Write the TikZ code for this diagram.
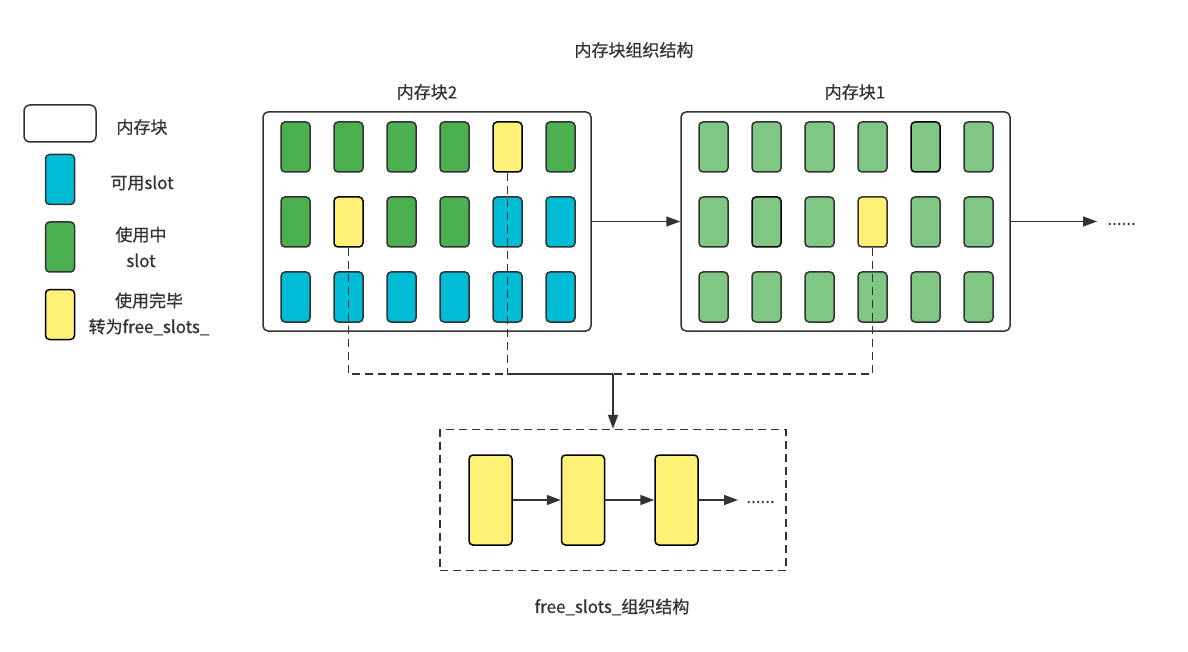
\documentclass[tikz,border=0pt]{standalone}
\usepackage{fontspec}
\setmainfont{Noto Sans CJK SC}[FakeBold=0.7]
\usepackage{tikz}
\usetikzlibrary{positioning,shapes,arrows,arrows.meta,fit,calc}

\definecolor{linec}{HTML}{333333}
\definecolor{usedg}{HTML}{4CAF50}
\definecolor{freec}{HTML}{00BCD4}
\definecolor{doney}{HTML}{FFF176}
\definecolor{lightg}{HTML}{81C784}

\tikzset{
    slot/.style={rectangle,draw=linec,line width=0.75pt,rounded corners=2pt,minimum width=14.5pt,minimum height=25pt,inner sep=0pt},
    memblock/.style={rectangle,draw=linec,line width=0.75pt,rounded corners=2.5pt,fill=white,inner sep=0pt},
    lbl/.style={font=\fontsize{8.5}{13}\selectfont,text=linec,align=center,inner sep=0pt},
    link/.style={draw=linec,line width=0.75pt,-{Triangle[length=7pt,width=5pt]}},
    dashlink/.style={draw=linec,line width=0.75pt,dash pattern=on 4pt off 2.5pt},
}

\begin{document}
\begin{tikzpicture}[x=0.5pt,y=-0.5pt]
            \useasboundingbox[fill=white] (0,0) rectangle (1188,652);

            \node[lbl] (title) at (634,50) {内存块组织结构};

            \node[memblock,minimum width=36pt,minimum height=18.5pt,rounded corners=3pt] (lgblock) at (60,123.5) {};
            \node[lbl] (lgblocktxt) at (142,127) {内存块};
            \node[slot,fill=freec] (lgfree) at (60,179.5) {};
            \node[lbl] (lgfreetxt) at (142,183) {可用slot};
            \node[slot,fill=usedg] (lgused) at (60,247) {};
            \node[lbl] (lgusedtxt) at (141,247) {使用中\\slot};
            \node[slot,fill=doney,draw=black] (lgdone) at (60,314.5) {};
            \node[lbl] (lgdonetxt) at (149,314) {使用完毕\\转为free\_slots\_};

            \node[lbl] (mem2txt) at (427,92) {内存块2};
            \node[memblock,minimum width=164pt,minimum height=109.5pt] (mem2) at (427,221.5) {};
            \foreach \r/\row in {1/{usedg/linec,usedg/linec,usedg/linec,usedg/linec,doney/black,usedg/linec},
                                 2/{usedg/linec,doney/black,usedg/linec,usedg/linec,freec/linec,freec/linec},
                                 3/{freec/linec,freec/linec,freec/linec,freec/linec,freec/linec,freec/linec}}
                \foreach \fc/\dc [count=\c] in \row
                    \node[slot,fill=\fc,draw=\dc] (m2s\r\c) at ({295.5+53*(\c-1)},{147+75*(\r-1)}) {};

            \node[lbl] (mem1txt) at (855,92) {内存块1};
            \node[memblock,minimum width=164.5pt,minimum height=109.5pt] (mem1) at (845.5,221.5) {};
            \foreach \r/\row in {1/{lightg/linec,lightg/linec,lightg/linec,lightg/linec,lightg/black,lightg/linec},
                                 2/{lightg/linec,lightg/black,lightg/linec,doney/linec,lightg/linec,lightg/linec},
                                 3/{lightg/linec,lightg/linec,lightg/linec,lightg/linec,lightg/linec,lightg/linec}}
                \foreach \fc/\dc [count=\c] in \row
                    \node[slot,fill=\fc,draw=\dc] (m1s\r\c) at ({713.5+53*(\c-1)},{147+75*(\r-1)}) {};

            \node[lbl,anchor=west,inner sep=5pt] (more1) at (1097,224) {......};
            \draw[link] (mem2.east) -- (mem1.west);
            \draw[link] (mem1.east) -- (more1.west |- mem1.east);

            \node[rectangle,draw=linec,line width=0.75pt,dash pattern=on 4pt off 2.5pt,minimum width=173pt,minimum height=70.5pt] (freebox) at (613,500) {};
            \node[slot,fill=doney,draw=black,minimum width=21.5pt,minimum height=45pt] (fs1) at (490.5,500) {};
            \node[slot,fill=doney,draw=black,minimum width=21.5pt,minimum height=45pt] (fs2) at (583,500) {};
            \node[slot,fill=doney,draw=black,minimum width=21.5pt,minimum height=45pt] (fs3) at (676.5,500) {};
            \node[lbl,anchor=west,inner sep=4pt] (more2) at (738,502) {......};
            \draw[link] (fs1) -- (fs2);
            \draw[link] (fs2) -- (fs3);
            \draw[link] (fs3.east) -- (more2.west |- fs3.east);

            \coordinate (jn) at (613,374);
            \draw[dashlink] (m2s22.south) |- (jn);
            \draw[dashlink] (m2s15.south) |- (jn);
            \draw[dashlink] (m1s24.south) |- (jn);
            \draw[link] (jn) -- (freebox.north);

            \node[lbl] (freetxt) at (612,607) {free\_slots\_组织结构};
        \end{tikzpicture}
\end{document}
